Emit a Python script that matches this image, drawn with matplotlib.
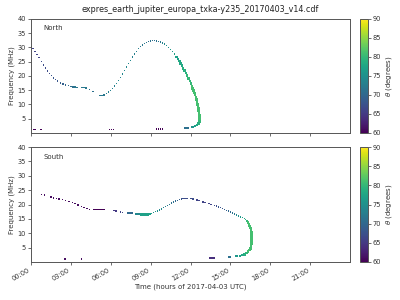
import matplotlib
matplotlib.use("Agg")
import matplotlib.pyplot as plt
import numpy as np

TITLE = "expres_earth_jupiter_europa_txka-y235_20170403_v14.cdf"
XTICKS = [0, 3, 6, 9, 12, 15, 18, 21]
XTICK_LABELS = ["00:00", "03:00", "06:00", "09:00", "12:00", "15:00", "18:00", "21:00"]
YTICKS = [5, 10, 15, 20, 25, 30, 35, 40]

# North hemisphere: sparse part of the curve (hours, MHz, degrees)
north_t = [0.00, 0.15, 0.30, 0.45, 0.60, 0.80, 0.95, 1.10, 1.25, 1.40, 1.55, 1.70,
           1.85, 2.00, 2.20, 2.40, 2.60, 2.80, 3.00, 3.15, 3.30, 3.45, 3.85, 4.00,
           4.15, 4.40, 4.65, 5.20, 5.35, 5.50, 5.70, 5.85, 6.00, 6.15, 6.30, 6.45,
           6.60, 6.75, 6.90, 7.05, 7.20, 7.35, 7.50, 7.65, 7.80, 7.95, 8.10, 8.25,
           8.40, 8.55, 8.70, 8.85, 9.00, 9.15, 9.30, 9.45, 9.60, 9.75, 9.90, 10.05,
           10.20, 10.35, 10.50, 10.65, 10.80]
north_f = [30.2, 29.6, 28.7, 27.6, 26.4, 25.0, 23.9, 22.8, 21.8, 20.9, 20.1, 19.3,
           18.7, 18.2, 17.6, 17.2, 16.9, 16.6, 16.4, 16.2, 16.1, 16.0, 15.9, 15.9,
           15.8, 15.3, 14.5, 13.2, 13.2, 13.3, 13.8, 14.4, 15.0, 15.7, 16.5, 17.4,
           18.4, 19.5, 20.7, 21.9, 23.1, 24.3, 25.5, 26.6, 27.7, 28.7, 29.6, 30.3,
           30.9, 31.4, 31.8, 32.1, 32.3, 32.4, 32.4, 32.3, 32.1, 31.9, 31.6, 31.2,
           30.7, 30.1, 29.4, 28.6, 27.7]
north_theta = [66, 66, 66, 66, 66, 67, 67, 67, 67, 67, 68, 68,
               68, 68, 69, 69, 70, 70, 71, 71, 72, 72, 72, 72,
               72, 71, 71, 72, 72, 72, 73, 73, 73, 73, 73, 74,
               74, 74, 74, 74, 74, 74, 74, 73, 73, 73, 73, 72,
               72, 72, 72, 71, 71, 71, 71, 71, 72, 72, 73, 74,
               75, 75, 76, 76, 77]

# North hemisphere: steep part (drawn thicker)
north_steep_t = [10.95, 11.05, 11.15, 11.25, 11.35, 11.45, 11.55, 11.65, 11.75, 11.85,
                 11.95, 12.03, 12.10, 12.17, 12.23, 12.29, 12.35, 12.40, 12.45, 12.49,
                 12.53, 12.56, 12.59, 12.62, 12.65, 12.67, 12.68, 12.66, 12.60, 12.50]
north_steep_f = [26.7, 25.9, 25.2, 24.4, 23.6, 22.7, 21.9, 21.0, 20.1, 19.1,
                 18.2, 17.3, 16.5, 15.7, 14.9, 14.1, 13.3, 12.5, 11.7, 10.9,
                 10.1, 9.3, 8.5, 7.7, 6.9, 6.1, 5.0, 4.0, 3.3, 2.8]
north_steep_theta = [77, 77, 78, 78, 78, 79, 79, 79, 80, 80,
                     80, 80, 81, 81, 81, 81, 81, 81, 81, 81,
                     81, 81, 81, 81, 81, 81, 81, 80, 79, 78]

# North hemisphere: low frequency fragments
north_low_t = [0.20, 0.30, 0.75, 5.90, 6.05, 6.20, 9.45, 9.60, 9.75, 9.90,
               11.60, 11.72, 11.84, 12.10, 12.22, 12.36]
north_low_f = [1.2, 1.2, 1.2, 1.2, 1.2, 1.2, 1.3, 1.3, 1.3, 1.3,
               1.75, 1.75, 1.75, 2.0, 2.1, 2.4]
north_low_theta = [60, 60, 60, 60, 60, 60, 60, 60, 60, 60,
                   71, 71, 71, 75, 76, 77]

# South hemisphere: sparse part
south_t = [0.80, 1.00, 1.50, 1.70, 1.90, 2.10, 2.35, 2.60, 2.85, 3.10, 3.30, 3.55,
           3.80, 4.00, 4.20, 4.40, 4.75, 4.85, 4.95, 5.05, 5.15, 5.25, 5.35, 5.45,
           5.55, 6.25, 6.40, 6.75, 6.90, 7.30, 7.45, 7.60, 7.85, 7.95, 8.05, 8.15,
           9.05, 9.20, 9.35, 9.50, 9.65, 9.80, 9.95, 10.10, 10.25, 10.40, 10.55,
           10.70, 10.85, 11.00, 11.15, 11.30, 11.45, 11.60, 11.75, 12.05, 12.20,
           12.50, 12.65, 12.95, 13.10, 13.40, 13.55, 13.80, 13.95, 14.10, 14.25,
           14.40, 14.55, 14.70, 14.85, 15.00, 15.15, 15.30, 15.45, 15.60, 15.75,
           15.90, 16.05, 16.15, 16.25]
south_f = [23.5, 23.3, 22.6, 22.3, 22.1, 21.9, 21.7, 21.4, 21.1, 20.8, 20.4, 19.9,
           19.4, 19.0, 18.6, 18.3, 18.2, 18.2, 18.2, 18.2, 18.2, 18.2, 18.2, 18.2,
           18.2, 17.85, 17.8, 17.4, 17.3, 17.0, 17.0, 17.0, 16.7, 16.7, 16.7, 16.7,
           16.9, 17.2, 17.5, 17.8, 18.1, 18.5, 18.9, 19.3, 19.7, 20.1, 20.5,
           20.9, 21.2, 21.5, 21.7, 21.9, 22.0, 22.0, 22.0, 22.0, 21.9,
           21.6, 21.4, 20.9, 20.7, 20.3, 20.1, 19.7, 19.5, 19.2, 18.9,
           18.6, 18.3, 18.0, 17.7, 17.4, 17.0, 16.7, 16.3, 16.0, 15.7,
           15.4, 15.05, 14.7, 14.3]
south_theta = [61, 61, 61, 61, 61, 61, 61, 61, 61, 61, 61, 61,
               61, 61, 61, 61, 60, 60, 60, 60, 60, 60, 60, 60,
               60, 65, 65, 66, 66, 70, 70, 70, 74, 74, 74, 74,
               76, 75, 75, 75, 74, 74, 73, 73, 72, 72, 71,
               71, 70, 70, 69, 68, 67, 67, 67, 67, 67,
               66, 66, 66, 66, 66, 66, 67, 67, 68, 68,
               68, 69, 69, 70, 70, 71, 72, 74, 75, 76,
               77, 78, 79, 80]

# South hemisphere: thick parts (flat run near 8.5 h and the steep turn)
south_steep_t = [8.30, 8.45, 8.60, 8.75, 8.90,
                 16.33, 16.40, 16.46, 16.50, 16.55, 16.58, 16.60, 16.60, 16.60, 16.60,
                 16.60, 16.58, 16.55, 16.50, 16.43, 16.33, 16.20, 16.05, 15.90]
south_steep_f = [16.6, 16.6, 16.6, 16.6, 16.7,
                 13.8, 13.2, 12.5, 11.8, 11.1, 10.4, 9.7, 9.0, 8.3, 7.6,
                 6.9, 6.2, 5.5, 4.8, 4.2, 3.6, 3.1, 2.7, 2.4]
south_steep_theta = [77, 77, 77, 77, 77,
                     81, 81, 81, 81, 81, 81, 81, 81, 81, 81,
                     81, 81, 81, 81, 81, 81, 80, 79, 78]

# South hemisphere: low frequency fragments
south_low_t = [2.55, 3.80, 13.45, 13.60, 13.75, 14.85, 15.00, 15.40, 15.50, 15.70]
south_low_f = [0.95, 0.95, 1.4, 1.4, 1.4, 1.65, 1.65, 2.0, 2.0, 2.2]
south_low_theta = [61, 61, 64, 64, 64, 71, 71, 76, 76, 77]

GREY = "#555555"
plt.rcParams["font.family"] = ["DejaVu Sans"]

fig = plt.figure(figsize=(4, 3), dpi=100)
ax_n = fig.add_axes([0.0775, 0.5567, 0.7975, 0.38])
ax_s = fig.add_axes([0.0775, 0.1267, 0.7975, 0.383])
cax_n = fig.add_axes([0.9, 0.5567, 0.02, 0.38])
cax_s = fig.add_axes([0.9, 0.1267, 0.02, 0.383])

panels = [
    (ax_n, cax_n, "North",
     [(north_t, north_f, north_theta, 1.0),
      (north_steep_t, north_steep_f, north_steep_theta, 3.5),
      (north_low_t, north_low_f, north_low_theta, 1.6)]),
    (ax_s, cax_s, "South",
     [(south_t, south_f, south_theta, 1.0),
      (south_steep_t, south_steep_f, south_steep_theta, 3.5),
      (south_low_t, south_low_f, south_low_theta, 1.6)]),
]

for ax, cax, name, layers in panels:
    sc = None
    for t, f, th, size in layers:
        sc = ax.scatter(t, f, c=th, cmap="viridis", vmin=60, vmax=90,
                        marker="s", s=size, linewidths=0)
    ax.set_xlim(0, 24)
    ax.set_ylim(0, 40)
    ax.set_yticks(YTICKS)
    ax.set_xticks(XTICKS)
    ax.set_ylabel("Frequency (MHz)", fontsize=5, color="#333333", labelpad=2)
    ax.text(0.038, 0.9, name, transform=ax.transAxes, fontsize=5, color="#333333")
    ax.tick_params(labelsize=4.8, colors=GREY, labelcolor="#333333",
                   length=2, width=0.6, pad=1.5)
    for sp in ax.spines.values():
        sp.set_color(GREY)
        sp.set_linewidth(0.7)

    cb = fig.colorbar(sc, cax=cax)
    cb.set_ticks([60, 65, 70, 75, 80, 85, 90])
    cb.set_label(r"$\theta$ (degrees)", fontsize=5, color="#333333", labelpad=2)
    cb.ax.tick_params(labelsize=4.8, colors=GREY, labelcolor="#333333",
                      length=2, width=0.6, pad=1.5)
    cb.outline.set_edgecolor(GREY)
    cb.outline.set_linewidth(0.7)

ax_n.set_xticklabels([])
ax_s.set_xticklabels(XTICK_LABELS, rotation=30, ha="right")
ax_s.set_xlabel("Time (hours of 2017-04-03 UTC)", fontsize=5, color="#333333", labelpad=1)
fig.suptitle(TITLE, fontsize=5.8, y=0.985, color="#222222")

fig.savefig("out.png", dpi=100)
